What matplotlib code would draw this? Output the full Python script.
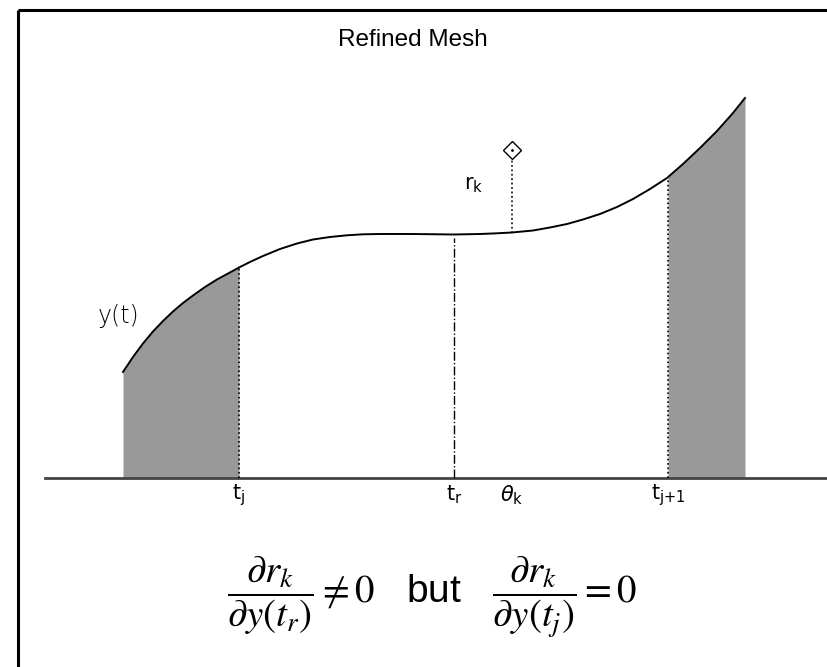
import numpy as np
import matplotlib
matplotlib.use("Agg")
import matplotlib.pyplot as plt

######## values (x = position along t, y = height above the axis line)
curveT = [123, 133, 143, 153, 163, 173, 183, 193, 205, 217, 229, 239, 251, 263, 280, 297, 313, 330, 347, 363, 380, 397,
          413, 430, 453, 480, 497, 512, 533, 550, 567, 583, 600, 617, 633, 650, 667, 683, 700, 717, 733, 745]
curveY = [106, 121, 134.5, 146.5, 157, 166.5, 175, 182.5, 191, 198.5, 205, 210.5, 216.5, 222, 229, 234.5, 238.5, 241, 242.7, 243.7, 244, 244,
          244, 243.8, 243.5, 244, 244.7, 245.5, 247.5, 250.5, 254, 258.5, 264, 271, 279, 289, 300, 314, 330, 347, 365, 380]

tJ, tR, thetaK, tJ1 = 239, 454, 512, 668
yJ, yR, yTheta, yJ1 = 210.5, 243.5, 245.5, 300
rDiamond = 328

tickNames = [r"$\mathrm{t}_\mathrm{j}$", r"$\mathrm{t}_\mathrm{r}$", r"$\theta_\mathrm{k}$", r"$\mathrm{t}_\mathrm{j{+}1}$"]
tickPos = [tJ, tR, thetaK, tJ1]

curveT = np.array(curveT, dtype=float)
curveY = np.array(curveY, dtype=float)

fig = plt.figure(figsize=(8.27, 6.67), dpi=100)
ax = fig.add_axes([0, 0, 1, 1])
ax.set_xlim(0, 827)
ax.set_ylim(-189, 478)
ax.axis('off')

# outer frame (left + top)
ax.plot([18, 18], [-189, 468], color='black', linewidth=2.2, solid_capstyle='butt')
ax.plot([18, 827], [468, 468], color='black', linewidth=2.2, solid_capstyle='butt')

# shaded regions
grey = '#999999'
leftMask = curveT <= tJ
ax.fill_between(curveT[leftMask], 0, curveY[leftMask], color=grey, linewidth=0)
rightMask = curveT >= tJ1 - 1
ax.fill_between(np.insert(curveT[rightMask], 0, tJ1), 0, np.insert(curveY[rightMask], 0, yJ1), color=grey, linewidth=0)

# axis line and curve
ax.plot([45, 827], [0, 0], color='#444444', linewidth=2.0)
ax.plot(curveT, curveY, color='black', linewidth=1.4)

# vertical markers
ax.plot([tJ, tJ], [0, yJ], color='black', linestyle=':', linewidth=1.2)
ax.plot([tJ1, tJ1], [0, yJ1], color='black', linestyle=':', linewidth=1.2)
ax.plot([tR, tR], [0, yR - 3], color='black', linestyle='-.', linewidth=1.0)
ax.plot([thetaK, thetaK], [yTheta, rDiamond], color='black', linestyle=':', linewidth=1.2)
ax.plot([thetaK], [rDiamond], marker='D', markersize=9, markerfacecolor='white', markeredgecolor='black', markeredgewidth=1.0)
ax.plot([thetaK], [rDiamond], marker='.', markersize=2, color='black')

labelFont = dict(family='DejaVu Sans', fontsize=15, fontweight='light', math_fontfamily='dejavusans', color='black')
for name, pos in zip(tickNames, tickPos):
    ax.text(pos, -17, name, ha='center', va='center', **labelFont)
ax.text(119, 162, 'y(t)', ha='center', va='center', family='DejaVu Sans', fontsize=17, fontweight='light')
ax.text(474, 293, r"$\mathrm{r}_\mathrm{k}$", ha='center', va='center', **labelFont)

ax.text(413, 438, 'Refined Mesh', ha='center', va='center', family='Liberation Sans', fontsize=17.5)

ax.text(432, -119, r"$\dfrac{\partial r_k}{\partial y(t_r)} \neq 0$   but   $\dfrac{\partial r_k}{\partial y(t_j)} = 0$",
        ha='center', va='center', family='Liberation Sans', fontsize=28, math_fontfamily='stix')

fig.savefig('out.png', dpi=100)
